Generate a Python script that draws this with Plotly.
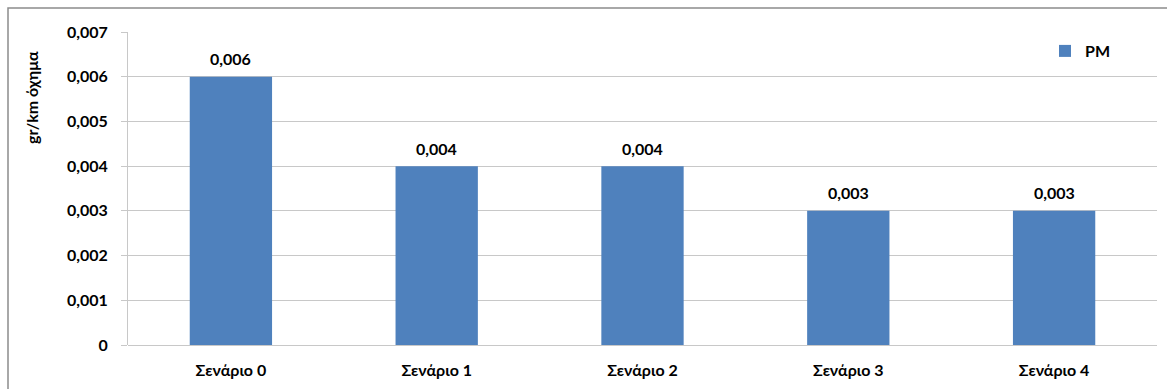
import plotly.graph_objects as go

categories = ["Σενάριο 0", "Σενάριο 1", "Σενάριο 2", "Σενάριο 3", "Σενάριο 4"]
pm_values = [0.006, 0.004, 0.004, 0.003, 0.003]
y_tick_vals = [0, 0.001, 0.002, 0.003, 0.004, 0.005, 0.006, 0.007]
y_tick_text = ["0", "0,001", "0,002", "0,003", "0,004", "0,005", "0,006", "0,007"]

FONT = "Lato, 'Open Sans', sans-serif"
FS = 16
W, H = 1167, 389
L, R, T, B = 128, 10, 32, 44
pw, ph = W - L - R, H - T - B

def px_x(x):
    return (x - L) / pw

def px_y(y):
    return (H - B - y) / ph

fig = go.Figure()
fig.add_trace(go.Bar(
    x=categories, y=pm_values, name="<b>PM</b>",
    marker=dict(color="#4F81BD", line=dict(width=0)),
))

label_anns = [dict(x=c, y=v, xref="x", yref="y", text=f"<b>{v:.3f}</b>".replace(".", ","),
                   showarrow=False, yanchor="middle", xanchor="center", yshift=18,
                   font=dict(family=FONT, size=FS, color="#000000"))
              for c, v in zip(categories, pm_values)]

fig.update_layout(
    width=W, height=H,
    margin=dict(l=L, r=R, t=T, b=B),
    paper_bgcolor="white", plot_bgcolor="white",
    separators=",.",
    bargap=0.6,
    font=dict(family=FONT, size=FS, color="#000000"),
    showlegend=True,
    legend=dict(x=px_x(1045), y=px_y(51), xanchor="left", yanchor="middle",
                font=dict(family=FONT, size=FS, color="#000000"),
                bgcolor="rgba(0,0,0,0)", itemwidth=30),
    xaxis=dict(showgrid=False, showline=False, ticks="",
               tickvals=categories, ticktext=[f"<b>{c}</b>" for c in categories],
               ticklabelstandoff=14,
               tickfont=dict(family=FONT, size=FS, color="#000000")),
    yaxis=dict(range=[0, 0.007], tickvals=y_tick_vals, ticktext=[f"<b>{t}</b>" for t in y_tick_text],
               showgrid=True, gridcolor="#C8C8C8", gridwidth=1,
               showline=True, linecolor="#C8C8C8", linewidth=1,
               ticks="outside", ticklen=6, tickcolor="#C8C8C8",
               ticklabelstandoff=10,
               zeroline=True, zerolinecolor="#C8C8C8", zerolinewidth=1,
               tickfont=dict(family=FONT, size=FS, color="#000000")),
    annotations=label_anns + [dict(text="<b>gr/km όχημα</b>", textangle=-90, x=px_x(32), y=px_y(98),
                      xref="paper", yref="paper", showarrow=False,
                      xanchor="center", yanchor="middle",
                      font=dict(family=FONT, size=16, color="#000000"))],
    shapes=[dict(type="rect", xref="paper", yref="paper",
                 x0=px_x(8), x1=px_x(1175), y0=px_y(400), y1=px_y(8),
                 line=dict(color="#8C8C8C", width=1.5), fillcolor="rgba(0,0,0,0)", layer="below")],
)

fig.write_html("out.html")
